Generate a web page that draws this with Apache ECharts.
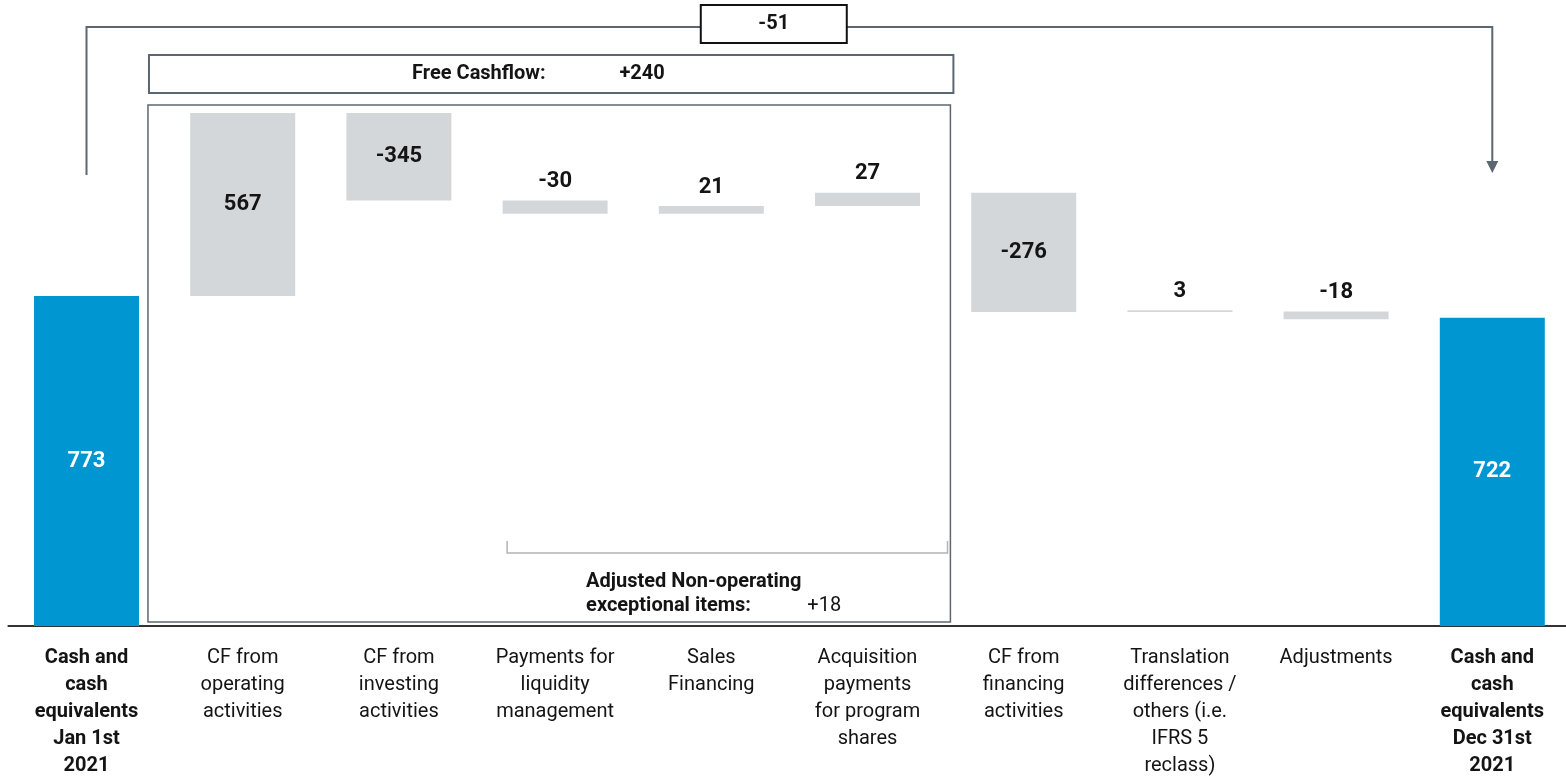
<html>
<head>
<meta charset="utf-8">
<title>Cash flow 2021</title>
<script src="https://cdn.jsdelivr.net/npm/echarts@6/dist/echarts.min.js"></script>
<style>
  html, body { margin: 0; padding: 0; background: #fff; }
  #chart { width: 1566px; height: 778px; }
</style>
</head>
<body>
<div id="chart"></div>
<script>
// categories (line breaks as in the source)
var categories = [
  'Cash and\ncash\nequivalents\nJan 1st\n2021',
  'CF from\noperating\nactivities',
  'CF from\ninvesting\nactivities',
  'Payments for\nliquidity\nmanagement',
  'Sales\nFinancing',
  'Acquisition\npayments\nfor program\nshares',
  'CF from\nfinancing\nactivities',
  'Translation\ndifferences /\nothers (i.e.\nIFRS 5\nreclass)',
  'Adjustments',
  'Cash and\ncash\nequivalents\nDec 31st\n2021'
];
// printed values
var valueLabels = ['773', '567', '-345', '-30', '21', '27', '-276', '3', '-18', '722'];
// bar extents as drawn in the picture (same scale as the 773 / 722 totals)
var barLow  = [0,   773,  997, 966, 966, 984, 736, 736, 719, 0];
var barHigh = [773, 1202, 1202, 997, 984, 1015, 1015, 740, 737, 722];
var isTotal = [true, false, false, false, false, false, false, false, false, true];
var insideLabel = [true, true, true, false, false, false, true, false, false, true];
// summary figures
var totalChange = '-51';
var freeCashflow = '+240';
var nonOperating = '+18';

var BLUE = '#0096d1', GREY = '#d4d7da', SLATE = '#5c6772', TXT = '#141414';
var FONT = 'Roboto, "Liberation Sans", Arial, sans-serif';

var myChart = echarts.init(document.getElementById('chart'));

var deltaData = [];
for (var i = 0; i < categories.length; i++) {
  deltaData.push({
    value: barHigh[i] - barLow[i],
    itemStyle: { color: isTotal[i] ? BLUE : GREY },
    label: {
      position: insideLabel[i] ? 'inside' : 'top',
      color: isTotal[i] ? '#fff' : TXT
    }
  });
}

var option = {
  animation: false,
  grid: { left: 8.4, right: -4.4, top: 28.5, bottom: 152, outerBoundsMode: 'none', containLabel: false },
  xAxis: {
    type: 'category',
    data: categories.map(function (c, i) {
      return { value: c, textStyle: { fontWeight: isTotal[i] ? 'bold' : 'normal' } };
    }),
    axisLine: { lineStyle: { color: '#333', width: 2 } },
    axisTick: { show: false },
    axisLabel: {
      interval: 0, fontSize: 20, lineHeight: 27, margin: 18,
      color: TXT, fontFamily: FONT
    }
  },
  yAxis: {
    type: 'value', min: 0, max: 1400,
    show: false, splitLine: { show: false }
  },
  series: [
    {
      type: 'bar', stack: 'w', barWidth: 105, silent: true,
      itemStyle: { color: 'transparent' },
      data: barLow
    },
    {
      type: 'bar', stack: 'w', barWidth: 105,
      label: {
        show: true, distance: 8, fontSize: 22, fontWeight: 'bold', fontFamily: FONT,
        formatter: function (p) { return valueLabels[p.dataIndex]; }
      },
      data: deltaData
    }
  ]
};
myChart.setOption(option);

// annotations placed relative to the category axis
function cx(i) { return myChart.convertToPixel({ xAxisIndex: 0 }, i); }
var band = cx(1) - cx(0);
var boxL = cx(1) - 0.6 * band, boxR = cx(5) + 0.55 * band;
var midTop = cx(4) + 0.4 * band;
var bold = { fontSize: 20, fontWeight: 'bold', fontFamily: FONT, fill: TXT };

myChart.setOption({
  graphic: [
    { type: 'polyline', shape: { points: [[cx(0), 175], [cx(0), 27], [cx(9), 27], [cx(9), 164]] },
      style: { stroke: SLATE, lineWidth: 2, fill: null } },
    { type: 'polygon', shape: { points: [[cx(9) - 6, 161], [cx(9) + 6, 161], [cx(9), 173]] },
      style: { fill: SLATE } },
    { type: 'rect', shape: { x: midTop - 73, y: 5, width: 146, height: 38 },
      style: { fill: '#fff', stroke: '#111', lineWidth: 2 } },
    { type: 'text', x: midTop, y: 24,
      style: Object.assign({ text: totalChange, align: 'center', verticalAlign: 'middle' }, bold) },
    { type: 'rect', shape: { x: boxL, y: 55, width: boxR - boxL, height: 38 },
      style: { fill: null, stroke: SLATE, lineWidth: 2 } },
    { type: 'text', x: cx(2) + 80, y: 74,
      style: Object.assign({ text: 'Free Cashflow:', align: 'center', verticalAlign: 'middle' }, bold) },
    { type: 'text', x: cx(3) + 87, y: 74,
      style: Object.assign({ text: freeCashflow, align: 'center', verticalAlign: 'middle' }, bold) },
    { type: 'rect', shape: { x: boxL - 1, y: 105, width: boxR - boxL - 2, height: 517 },
      style: { fill: null, stroke: SLATE, lineWidth: 1.5 } },
    { type: 'polyline',
      shape: { points: [[cx(3) - 48, 541], [cx(3) - 48, 553], [cx(5) + 80, 553], [cx(5) + 80, 541]] },
      style: { stroke: '#b3b3b3', lineWidth: 1.5, fill: null } },
    { type: 'text', x: cx(3) + 31, y: 582,
      style: Object.assign({ text: 'Adjusted Non-operating', align: 'left', verticalAlign: 'middle' }, bold) },
    { type: 'text', x: cx(3) + 31, y: 606,
      style: Object.assign({ text: 'exceptional items:', align: 'left', verticalAlign: 'middle' }, bold) },
    { type: 'text', x: cx(4) + 96, y: 606,
      style: { text: nonOperating, align: 'left', verticalAlign: 'middle', fontSize: 20, fontFamily: FONT, fill: TXT } }
  ]
});
</script>
</body>
</html>
